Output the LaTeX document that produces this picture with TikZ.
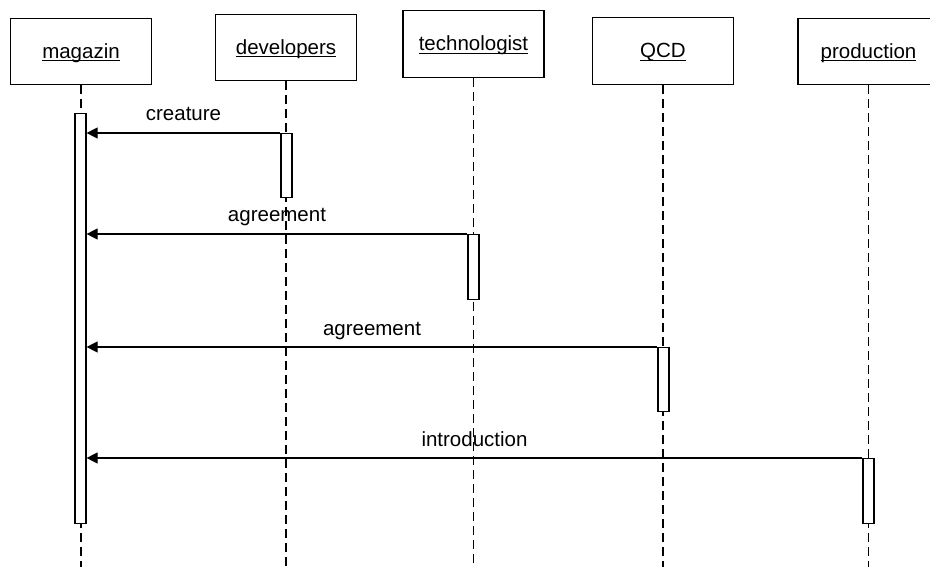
\documentclass[tikz,border=0pt]{standalone}
\usepackage{fontspec}
\setmainfont{Liberation Sans}
\usetikzlibrary{arrows.meta}

% underlined object name, the rule crossing the descenders
\newcommand\objname[1]{\leavevmode\setbox0\hbox{#1}\rlap{\rule[-3pt]{\wd0}{1.2pt}}\box0}

\tikzset{
  objbox/.style={draw, line width=1.2pt, fill=white, minimum width=141pt, minimum height=66.5pt,
    inner sep=0pt, text height=14pt, text depth=0pt, font=\fontsize{20.5}{24}\selectfont},
  life/.style={line width=1.2pt, dash pattern=on 9pt off 5pt},
  act/.style={draw, line width=1.2pt, fill=white, minimum width=11pt, inner sep=0pt, anchor=north},
  msg/.style={line width=1.2pt, -{Triangle[length=11pt,width=11pt]}},
  msglabel/.style={anchor=base, inner sep=0pt, font=\fontsize{20.5}{24}\selectfont},
}

\begin{document}
\begin{tikzpicture}[x=1pt, y=-1pt]
  \useasboundingbox (0,0) rectangle (930,567);
  \coordinate (bot) at (0,567);

  % object heads
  \node[objbox] (mag)  at (81,51.5)    {\objname{magazin}};
  \node[objbox] (dev)  at (286,47.5)   {\objname{developers}};
  \node[objbox] (tech) at (473.5,44)   {\objname{technologist}};
  \node[objbox] (qcd)  at (663,51)     {\objname{QCD}};
  \node[objbox] (prod) at (868.5,51.5) {\objname{production}};

  % lifelines
  \foreach \o in {mag,dev,tech,qcd,prod}
    \draw[life] (\o.south) -- (\o.south |- bot);

  % activation bars
  \node[act, minimum height=410pt] (magact)  at (80.5,113)  {};
  \node[act, minimum height=64pt]  (devact)  at (286.5,133) {};
  \node[act, minimum height=65pt]  (techact) at (473.5,234) {};
  \node[act, minimum height=64pt]  (qcdact)  at (663.5,347) {};
  \node[act, minimum height=65pt]  (prodact) at (868.5,458) {};

  % messages
  \foreach \src/\txt in {devact/creature, techact/agreement, qcdact/agreement, prodact/introduction}{
    \draw[msg] (\src.north west) -- (magact.east |- \src.north west)
      coordinate[pos=0.5] (mid);
    \node[msglabel] at ([yshift=12pt]mid) {\txt};
  }
\end{tikzpicture}
\end{document}
